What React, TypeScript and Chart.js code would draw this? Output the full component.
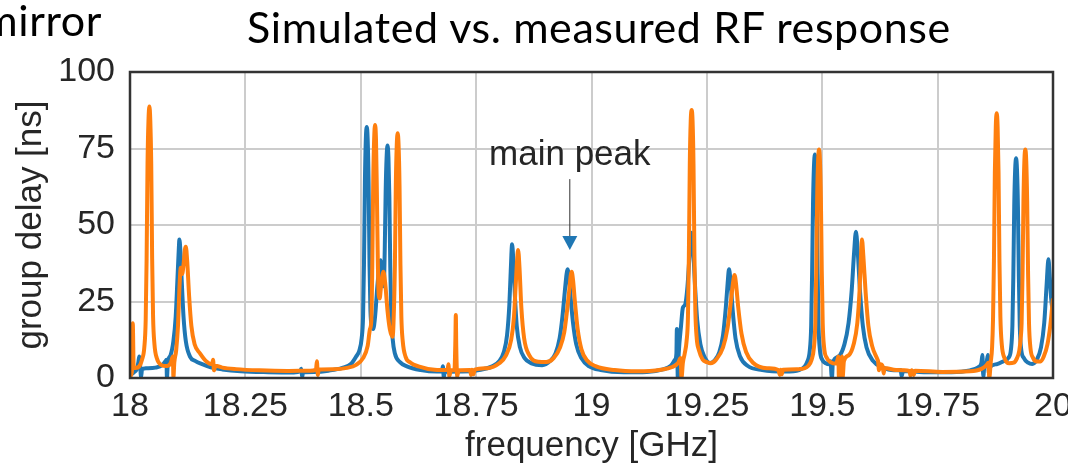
import React, { useEffect, useRef } from "react";
import { Chart, registerables } from "chart.js";

Chart.register(...registerables);

// ---- data (frequency in GHz, group delay in ns) ----
const simulated: [number, number][] = [
  [18.000, 1.0], [18.008, 1.8], [18.015, 3], [18.018, 5], [18.020, 7], [18.022, 4], [18.024, 0.3], [18.026, 2.8],
  [18.035, 3.2], [18.055, 3.4], [18.070, 4.2], [18.077, 5.5], [18.079, 6], [18.080, 0], [18.082, 5], [18.088, 7.5],
  [18.094, 12], [18.099, 20], [18.103, 33], [18.106, 43], [18.107, 45.3], [18.109, 42], [18.112, 32], [18.116, 20],
  [18.121, 12], [18.130, 7], [18.142, 5.5], [18.155, 4.6], [18.175, 3.5], [18.200, 2.8], [18.240, 2.2], [18.300, 1.9],
  [18.355, 1.8], [18.369, 2.2], [18.371, 3], [18.373, 0.3], [18.375, 1.9], [18.400, 2], [18.430, 2.4], [18.460, 3.3],
  [18.480, 4.8], [18.490, 7], [18.497, 9], [18.502, 13], [18.505, 20], [18.507, 37], [18.509, 64], [18.511, 78],
  [18.513, 82], [18.515, 78], [18.517, 64], [18.519, 37], [18.521, 22], [18.524, 17], [18.527, 16], [18.531, 20],
  [18.536, 30], [18.540, 36], [18.543, 38.5], [18.547, 31], [18.550, 30], [18.552, 42], [18.554, 61], [18.556, 72],
  [18.558, 76], [18.560, 72], [18.562, 59], [18.564, 36], [18.566, 21], [18.569, 13], [18.574, 8], [18.585, 5.2],
  [18.600, 3.8], [18.630, 2.6], [18.665, 2.1], [18.676, 2.2], [18.678, 3.8], [18.680, 0.2], [18.682, 2], [18.720, 2.1],
  [18.760, 2.7], [18.785, 3.8], [18.800, 5.5], [18.810, 8.5], [18.817, 14], [18.822, 24], [18.825, 35], [18.828, 43.7],
  [18.831, 37], [18.834, 27], [18.838, 17], [18.845, 10], [18.855, 6.5], [18.870, 4.8], [18.893, 4.2], [18.910, 5.5],
  [18.922, 8], [18.931, 13], [18.937, 20], [18.942, 28], [18.946, 34], [18.948, 35.5], [18.951, 33], [18.955, 26],
  [18.960, 18], [18.967, 11], [18.978, 6.5], [18.995, 3.8], [19.020, 2.6], [19.070, 1.9], [19.120, 2], [19.155, 2.8],
  [19.172, 4], [19.181, 6], [19.184, 8], [19.185, 16], [19.186, 8], [19.187, 0], [19.189, 8], [19.194, 17],
  [19.198, 23], [19.203, 24], [19.208, 30], [19.212, 39], [19.215, 45], [19.217, 47.5], [19.220, 43], [19.224, 31],
  [19.229, 19], [19.236, 11], [19.245, 6.8], [19.257, 4.9], [19.267, 5.8], [19.277, 8.5], [19.285, 14], [19.291, 23],
  [19.295, 31], [19.298, 35.5], [19.301, 32], [19.306, 22], [19.312, 13], [19.322, 7], [19.338, 4], [19.370, 2.6],
  [19.420, 2.1], [19.450, 2.6], [19.462, 3.8], [19.468, 5.5], [19.473, 9], [19.476, 17], [19.478, 34], [19.480, 57],
  [19.482, 69], [19.484, 73], [19.486, 69], [19.488, 57], [19.490, 34], [19.492, 17], [19.495, 9], [19.500, 6],
  [19.508, 4.8], [19.515, 4.5], [19.518, 5.5], [19.520, 1], [19.521, 0], [19.523, 5], [19.535, 7], [19.548, 11],
  [19.557, 18], [19.564, 29], [19.569, 41], [19.573, 47.8], [19.577, 41], [19.582, 28], [19.588, 17], [19.596, 10],
  [19.610, 5.6], [19.630, 3.5], [19.655, 2.5], [19.670, 2.6], [19.672, 0.5], [19.675, 2.3], [19.720, 1.9], [19.780, 1.9],
  [19.820, 2.5], [19.838, 3.5], [19.845, 5], [19.847, 7.5], [19.849, 0.5], [19.851, 3.5], [19.856, 5], [19.859, 7.5],
  [19.861, 1.5], [19.863, 3.5], [19.878, 4.5], [19.893, 5.5], [19.903, 6.5], [19.909, 9.5], [19.912, 17], [19.914, 33],
  [19.916, 56], [19.918, 68], [19.920, 71.8], [19.922, 68], [19.924, 56], [19.926, 33], [19.928, 17], [19.931, 9.5],
  [19.937, 6.5], [19.946, 5], [19.955, 4.6], [19.965, 6], [19.974, 10], [19.981, 18], [19.986, 30], [19.989, 37.5],
  [19.990, 38.8], [19.993, 33], [19.996, 26], [20.000, 21],
];

const measured: [number, number][] = [
  [18.000, 0.5], [18.004, 2], [18.006, 17.9], [18.008, 3.5], [18.012, 3.3], [18.020, 3.8], [18.026, 6], [18.031, 10],
  [18.034, 19], [18.036, 39], [18.038, 70], [18.040, 84], [18.042, 88.7], [18.044, 84], [18.046, 70], [18.048, 39],
  [18.050, 20], [18.053, 11], [18.058, 6.5], [18.067, 4.3], [18.080, 3.9], [18.088, 4.8], [18.093, 7], [18.094, 0],
  [18.096, 5], [18.100, 9], [18.104, 17], [18.107, 29], [18.110, 36], [18.113, 34], [18.116, 37], [18.119, 42],
  [18.121, 42.9], [18.124, 38], [18.128, 27], [18.133, 17], [18.140, 11], [18.152, 8], [18.165, 5.5], [18.178, 4.5],
  [18.180, 6], [18.182, 2.5], [18.185, 4], [18.200, 3.4], [18.230, 2.9], [18.280, 2.5], [18.340, 2.3], [18.390, 2.4],
  [18.403, 2.8], [18.405, 5.5], [18.407, 1], [18.409, 2.8], [18.440, 2.9], [18.470, 3.3], [18.490, 4.3], [18.505, 6.5],
  [18.515, 10.5], [18.520, 16], [18.523, 19], [18.525, 37], [18.527, 64], [18.529, 78], [18.531, 82.7], [18.533, 78],
  [18.535, 60], [18.537, 38], [18.539, 27], [18.541, 26], [18.544, 30], [18.549, 34.7], [18.553, 31], [18.558, 22],
  [18.563, 16], [18.569, 13.5], [18.571, 18], [18.574, 37], [18.576, 63], [18.578, 76], [18.580, 80], [18.582, 76],
  [18.584, 63], [18.586, 37], [18.588, 20], [18.591, 12], [18.597, 7], [18.608, 5], [18.625, 3.8], [18.660, 2.7],
  [18.688, 2.6], [18.690, 4.5], [18.692, 0.5], [18.695, 2.5], [18.703, 2.6], [18.705, 12], [18.706, 20.6], [18.707, 10],
  [18.709, 0.5], [18.712, 2.5], [18.737, 2.6], [18.739, 1], [18.741, 2.7], [18.744, 1.2], [18.747, 2.7], [18.775, 3.2],
  [18.800, 4.8], [18.815, 7.5], [18.826, 12.5], [18.832, 20], [18.836, 31], [18.839, 39], [18.841, 41.8], [18.844, 36],
  [18.848, 23], [18.854, 13], [18.865, 7.5], [18.885, 5.3], [18.902, 5.2], [18.918, 6.5], [18.932, 10], [18.941, 15],
  [18.947, 22], [18.952, 29], [18.955, 33.5], [18.957, 34.7], [18.960, 32], [18.964, 25], [18.970, 16], [18.978, 9.5],
  [18.990, 5.8], [19.010, 3.8], [19.050, 2.6], [19.100, 2.2], [19.150, 2.7], [19.175, 3.6], [19.188, 5], [19.193, 6.5],
  [19.195, 0], [19.198, 5], [19.202, 8], [19.206, 12], [19.209, 20], [19.211, 40], [19.213, 70], [19.215, 84],
  [19.217, 87.6], [19.219, 84], [19.221, 70], [19.223, 40], [19.225, 22], [19.228, 13], [19.233, 9], [19.241, 6],
  [19.250, 5.2], [19.258, 4.8], [19.270, 6], [19.285, 10], [19.295, 16.5], [19.302, 25], [19.307, 31.5], [19.310, 33.7],
  [19.313, 31], [19.318, 23], [19.325, 14.5], [19.335, 8.5], [19.350, 5], [19.380, 3.2], [19.405, 2.6], [19.408, 1],
  [19.410, 2.7], [19.412, 1.2], [19.415, 2.7], [19.450, 2.9], [19.470, 4], [19.477, 6], [19.482, 10], [19.485, 18],
  [19.487, 35], [19.489, 59], [19.491, 71], [19.493, 74.7], [19.495, 71], [19.497, 59], [19.499, 35], [19.501, 18],
  [19.504, 10], [19.510, 6.5], [19.518, 5.2], [19.530, 4.7], [19.533, 6], [19.535, 7], [19.536, 0], [19.539, 4.5],
  [19.543, 7], [19.544, 0], [19.547, 5.5], [19.558, 7.5], [19.568, 11], [19.576, 18], [19.581, 29], [19.584, 40],
  [19.586, 45.3], [19.589, 40], [19.594, 28], [19.600, 17], [19.608, 10.5], [19.619, 6.3], [19.621, 5.5], [19.623, 2.5],
  [19.626, 4.5], [19.631, 3.8], [19.633, 1.5], [19.635, 3.3], [19.660, 2.6], [19.689, 2.3], [19.691, 0.8], [19.694, 2.5],
  [19.698, 1], [19.701, 2.4], [19.760, 2], [19.820, 2.2], [19.845, 3], [19.856, 4.2], [19.860, 5], [19.862, 0],
  [19.865, 5], [19.868, 10], [19.870, 19], [19.872, 38], [19.874, 67], [19.876, 82], [19.878, 86.5], [19.880, 82],
  [19.882, 67], [19.884, 38], [19.886, 20], [19.889, 11], [19.895, 6.5], [19.905, 4.8], [19.915, 5], [19.922, 6.5],
  [19.927, 9], [19.930, 13], [19.932, 18], [19.934, 34], [19.936, 58], [19.938, 71], [19.940, 74.7], [19.942, 71],
  [19.944, 58], [19.946, 34], [19.948, 18], [19.951, 10], [19.957, 6.5], [19.965, 5.4], [19.973, 5.4], [19.980, 7],
  [19.988, 11], [19.994, 17], [20.000, 26],
];

const freqTicks = [18, 18.25, 18.5, 18.75, 19, 19.25, 19.5, 19.75, 20];
const freqTickLabels = ["18", "18.25", "18.5", "18.75", "19", "19.25", "19.5", "19.75", "20"];
const delayTicks = [0, 25, 50, 75, 100];
const delayTickLabels = ["0", "25", "50", "75", "100"];

// annotation anchor (data coordinates)
const noteText = "main peak";
const noteFreq = 18.953;
const noteTextDelay = 69.6;
const noteLineTop = 65;
const noteHeadBase = 46.4;
const noteHeadTip = 41.8;

const titleText = "Simulated vs. measured RF response";
const sideText = "mirror";

const FONT = "'Liberation Sans', Arial, Helvetica, sans-serif";
const BLUE = "#1f77b4";
const ORANGE = "#ff7f0e";
const TEXT = "#262626";

export default function App() {
  const ref = useRef<HTMLCanvasElement>(null);

  useEffect(() => {
    const canvas = ref.current;
    if (!canvas) return;

    const overlay = {
      id: "frameAndNote",
      afterDatasetsDraw(chart: any) {
        const { ctx, chartArea: a, scales } = chart;
        const xs = scales.x;
        const ys = scales.y;
        ctx.save();
        const ax = xs.getPixelForValue(noteFreq);
        ctx.fillStyle = TEXT;
        ctx.font = `35px ${FONT}`;
        ctx.textAlign = "center";
        ctx.textBaseline = "alphabetic";
        ctx.fillText(noteText, ax, ys.getPixelForValue(noteTextDelay));
        const hb = ys.getPixelForValue(noteHeadBase);
        const ht = ys.getPixelForValue(noteHeadTip);
        ctx.strokeStyle = "#333333";
        ctx.lineWidth = 1;
        ctx.beginPath();
        ctx.moveTo(ax, ys.getPixelForValue(noteLineTop));
        ctx.lineTo(ax, hb);
        ctx.stroke();
        ctx.fillStyle = BLUE;
        ctx.beginPath();
        ctx.moveTo(ax - 7.5, hb);
        ctx.lineTo(ax + 7.5, hb);
        ctx.lineTo(ax, ht);
        ctx.closePath();
        ctx.fill();
        ctx.strokeStyle = "#333333";
        ctx.lineWidth = 2.5;
        ctx.strokeRect(a.left, a.top, a.right - a.left, a.bottom - a.top);
        ctx.restore();
      },
    };

    const chart = new Chart(canvas, {
      type: "line",
      data: {
        datasets: [
          {
            label: "simulated",
            data: simulated.map(([x, y]) => ({ x, y })),
            borderColor: BLUE,
            borderWidth: 4,
            pointRadius: 0,
            cubicInterpolationMode: "monotone",
            order: 2,
          },
          {
            label: "measured",
            data: measured.map(([x, y]) => ({ x, y })),
            borderColor: ORANGE,
            borderWidth: 4,
            pointRadius: 0,
            cubicInterpolationMode: "monotone",
            order: 1,
          },
        ],
      },
      options: {
        responsive: false,
        animation: false,
        events: [],
        layout: { padding: { top: 72, right: 15, bottom: 0, left: 0 } },
        plugins: { legend: { display: false }, tooltip: { enabled: false } },
        scales: {
          x: {
            type: "linear",
            min: 18,
            max: 20,
            afterBuildTicks: (s: any) => {
              s.ticks = freqTicks.map((v) => ({ value: v }));
            },
            afterFit: (s: any) => {
              s.height = 91;
              s.paddingLeft = 0;
              s.paddingRight = 0;
            },
            ticks: {
              autoSkip: false,
              maxRotation: 0,
              minRotation: 0,
              padding: 8,
              color: TEXT,
              font: { family: FONT, size: 34 },
              callback: (_v: any, i: number) => freqTickLabels[i],
            },
            grid: { color: "#cccccc", lineWidth: 2, drawTicks: false },
            border: { display: false },
            title: {
              display: true,
              text: "frequency [GHz]",
              color: TEXT,
              font: { family: FONT, size: 35 },
              padding: { top: 0, bottom: 2 },
            },
          },
          y: {
            type: "linear",
            min: 0,
            max: 100,
            afterBuildTicks: (s: any) => {
              s.ticks = delayTicks.map((v) => ({ value: v }));
            },
            afterFit: (s: any) => {
              s.width = 130;
              s.paddingTop = 0;
              s.paddingBottom = 0;
            },
            ticks: {
              padding: 15,
              color: TEXT,
              font: { family: FONT, size: 34 },
              callback: (_v: any, i: number) => delayTickLabels[i],
            },
            grid: { color: "#cccccc", lineWidth: 2, drawTicks: false },
            border: { display: false },
            title: {
              display: true,
              text: "group delay [ns]",
              color: TEXT,
              font: { family: FONT, size: 35 },
              padding: { top: 10, bottom: 0 },
            },
          },
        },
      },
      plugins: [overlay],
    } as any);

    return () => chart.destroy();
  }, []);

  const headFont = "Lato, 'Open Sans', sans-serif";

  return (
    <div
      style={{
        position: "fixed",
        left: 0,
        top: 0,
        width: 1068,
        height: 469,
        overflow: "hidden",
        background: "#ffffff",
      }}
    >
      <canvas
        ref={ref}
        width={1068}
        height={469}
        style={{ position: "absolute", left: 0, top: 0, width: 1068, height: 469 }}
      />
      <div
        style={{
          position: "absolute",
          left: 99,
          top: 5,
          width: 1000,
          textAlign: "center",
          fontFamily: headFont,
          fontSize: 43,
          letterSpacing: "0.6px",
          lineHeight: "43px",
          color: "#000",
          whiteSpace: "nowrap",
        }}
      >
        {titleText}
      </div>
      <div
        style={{
          position: "absolute",
          right: 966,
          top: -2,
          fontFamily: headFont,
          fontSize: 43,
          letterSpacing: "0.6px",
          lineHeight: "43px",
          color: "#000",
          whiteSpace: "nowrap",
        }}
      >
        {sideText}
      </div>
    </div>
  );
}
